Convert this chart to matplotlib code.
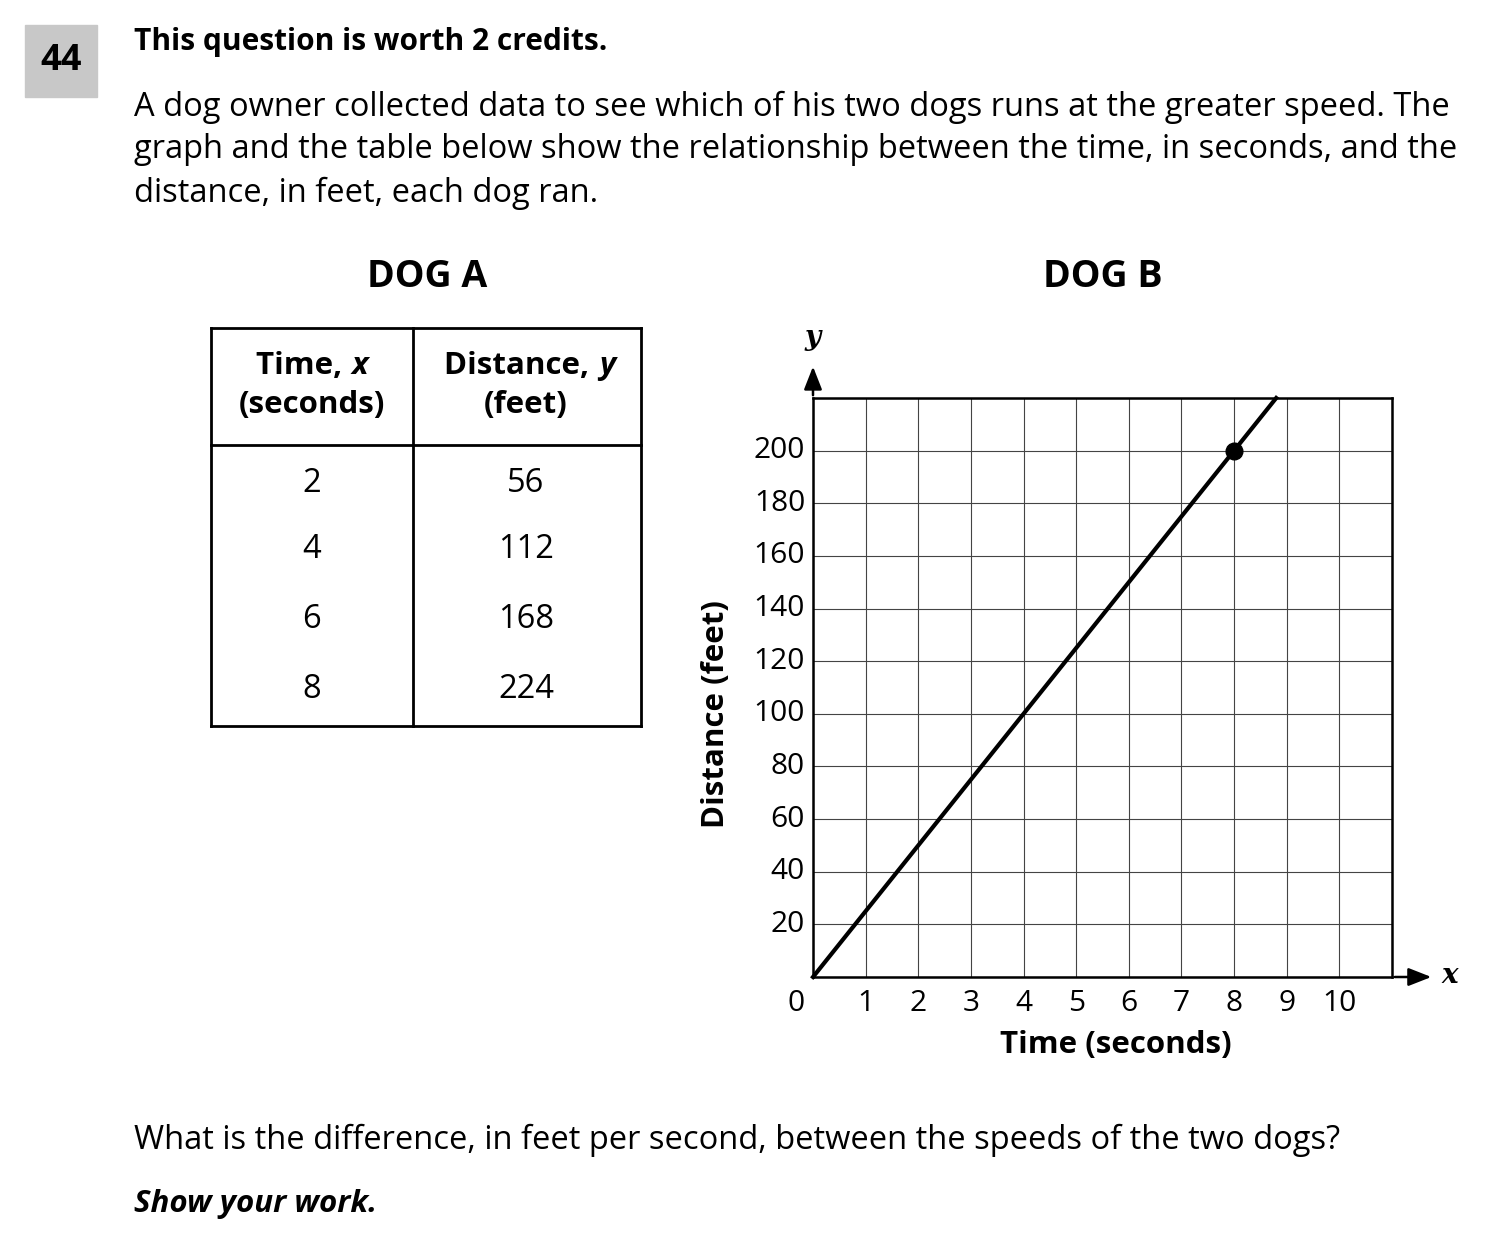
import matplotlib
matplotlib.use('Agg')
import matplotlib.pyplot as plt
from matplotlib.patches import Rectangle
from matplotlib.lines import Line2D

plt.rcParams['font.family'] = ['Open Sans', 'DejaVu Sans']

W, H = 1510, 1249

# Dog A table
times_a = [2, 4, 6, 8]
dist_a = [56, 112, 168, 224]
# Dog B graph: line through origin and marked point
line_b_x = [0, 8.8]
line_b_y = [0, 220]
point_b = (8, 200)
x_ticks = list(range(1, 11))
y_ticks = list(range(20, 201, 20))

fig = plt.figure(figsize=(W / 100, H / 100), dpi=100)


def fx(px):
    return px / W


def fy(py):
    return 1 - py / H


def txt(x, y, s, size=23.5, **kw):
    fig.text(fx(x), fy(y), s, fontsize=size, **kw)


# question header
fig.patches.append(Rectangle((fx(25), fy(97)), fx(97) - fx(25), fy(25) - fy(97),
                             transform=fig.transFigure, color='#c8c8c8', zorder=0))
txt(61, 61, '44', size=26, weight='bold', ha='center', va='center')
txt(134, 42, 'This question is worth 2 credits.', size=21.5, weight='bold', va='center')
txt(134, 107, 'A dog owner collected data to see which of his two dogs runs at the greater speed. The',
    va='center')
txt(134, 150, 'graph and the table below show the relationship between the time, in seconds, and the',
    va='center')
txt(134, 193, 'distance, in feet, each dog ran.', va='center')
txt(134, 1140, 'What is the difference, in feet per second, between the speeds of the two dogs?',
    va='center')
txt(134, 1204, 'Show your work.', size=22.5, weight='bold', style='italic', va='center')

txt(427, 277, 'DOG A', size=27, weight='bold', ha='center', va='center')
txt(1103, 277, 'DOG B', size=27, weight='bold', ha='center', va='center')


# table
def hline(x0, x1, y):
    fig.lines.append(Line2D([fx(x0), fx(x1)], [fy(y), fy(y)], transform=fig.transFigure,
                            color='black', lw=2))


def vline(x, y0, y1):
    fig.lines.append(Line2D([fx(x), fx(x)], [fy(y0), fy(y1)], transform=fig.transFigure,
                            color='black', lw=2))


hline(211, 641, 328)
hline(211, 641, 445)
hline(211, 641, 726)
vline(211, 328, 726)
vline(413, 328, 726)
vline(641, 328, 726)
txt(350, 366, 'Time, ', size=22.5, weight='bold', ha='right', va='center')
txt(352, 366, 'x', size=22.5, weight='bold', style='italic', ha='left', va='center')
txt(312, 405, '(seconds)', size=22.5, weight='bold', ha='center', va='center')
txt(597, 366, 'Distance, ', size=22.5, weight='bold', ha='right', va='center')
txt(599, 366, 'y', size=22.5, weight='bold', style='italic', ha='left', va='center')
txt(526, 405, '(feet)', size=22.5, weight='bold', ha='center', va='center')
rows_y = [484, 550, 620, 690]
for t, d, yy in zip(times_a, dist_a, rows_y):
    txt(312, yy, str(t), ha='center', va='center')
    txt(526, yy, str(d), ha='center', va='center')

# graph
ax = fig.add_axes([fx(813), fy(977), fx(1392) - fx(813), fy(398) - fy(977)])
ax.set_xlim(0, 11)
ax.set_ylim(0, 220)
ax.set_xticks(range(0, 12))
ax.set_yticks(range(0, 221, 20))
ax.grid(True, color='#444444', lw=0.8)
ax.tick_params(length=0, labelbottom=False, labelleft=False)
for s in ax.spines.values():
    s.set_linewidth(1.8)
ax.plot(line_b_x, line_b_y, color='black', lw=3, clip_on=False)
ax.plot(*point_b, 'o', color='black', ms=12, clip_on=False)
for t in x_ticks:
    ax.text(t, -4.5, str(t), fontsize=21.5, ha='center', va='top')
ax.text(-0.33, -4.5, '0', fontsize=21.5, ha='center', va='top')
for t in y_ticks:
    ax.text(-0.15, t, str(t), fontsize=21.5, ha='right', va='center')
ax.text(-1.85, 100, 'Distance (feet)', fontsize=22.5, weight='bold', rotation=90,
        ha='center', va='center')
ax.text(5.75, -20, 'Time (seconds)', fontsize=22.5, weight='bold', ha='center', va='top')
ax.annotate('', xy=(0, 233), xytext=(0, 220), annotation_clip=False,
            arrowprops=dict(arrowstyle='-|>,head_length=1.4,head_width=0.55', color='black', lw=1.8))
ax.annotate('', xy=(11.8, 0), xytext=(11, 0), annotation_clip=False,
            arrowprops=dict(arrowstyle='-|>,head_length=1.4,head_width=0.55', color='black', lw=1.8))
ax.text(0.0, 243, 'y', fontsize=20, family='DejaVu Serif', style='italic', weight='bold',
        ha='center', va='center')
ax.text(12.1, 0.5, 'x', fontsize=20, family='DejaVu Serif', style='italic', weight='bold',
        ha='center', va='center')

fig.savefig('out.png', dpi=100)
